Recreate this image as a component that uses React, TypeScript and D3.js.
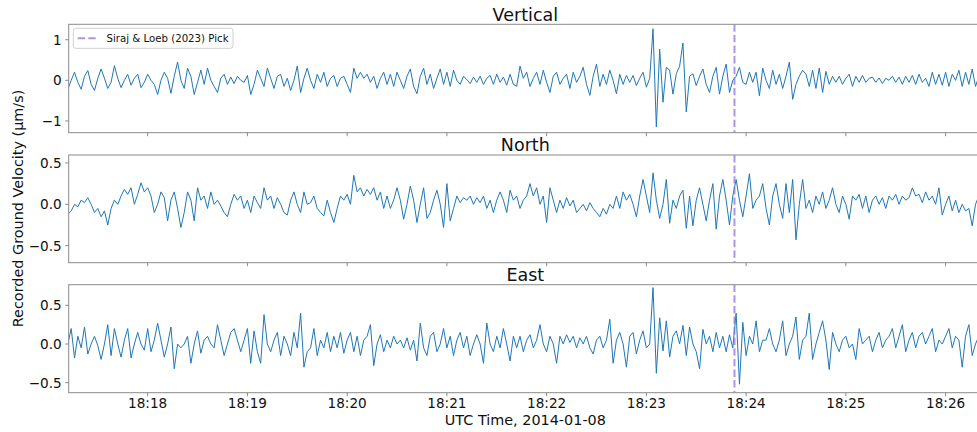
import React from "react";
import * as d3 from "d3";

// Recorded ground velocity (µm/s), one sample every 2 s starting 18:17:12 UTC
const verticalData = [
  -0.22, 0.0, 0.2, -0.05, -0.22, 0.1, 0.24, -0.1, -0.25, 0.05,
  0.28, 0.05, -0.2, -0.05, 0.36, 0.05, -0.18, 0.0, 0.15, -0.12,
  0.05, 0.15, -0.18, -0.05, 0.15, 0.0, -0.1, -0.35, 0.0, 0.2,
  0.05, -0.32, 0.1, 0.45, 0.0, -0.2, 0.3, 0.1, -0.35, -0.05,
  0.25, -0.1, 0.3, 0.0, -0.15, -0.3, 0.05, 0.15, -0.1, 0.08,
  -0.08, 0.1, 0.0, -0.05, 0.12, -0.35, -0.1, 0.25, 0.05, -0.15,
  0.3, 0.05, -0.2, 0.1, 0.15, -0.15, 0.05, -0.25, 0.0, 0.35,
  -0.3, 0.05, 0.3, 0.0, -0.2, 0.15, -0.05, 0.2, -0.15, 0.05,
  0.12, -0.15, 0.05, 0.1, -0.1, -0.3, 0.3, 0.05, 0.2, 0.05,
  0.15, -0.05, 0.1, -0.2, 0.05, 0.2, -0.1, 0.15, -0.15, 0.2,
  0.0, -0.2, 0.1, 0.28, -0.15, -0.33, 0.1, 0.3, -0.1, 0.15,
  -0.2, 0.05, 0.28, -0.1, 0.2, -0.15, 0.25, 0.0, -0.1, 0.1,
  0.02, -0.08, 0.08, -0.05, 0.1, -0.1, 0.05, 0.12, -0.1, 0.15,
  -0.05, 0.08, -0.12, 0.15, -0.1, -0.15, 0.35, 0.05, 0.2, -0.15,
  0.05, 0.2, -0.1, 0.25, -0.05, -0.3, 0.1, 0.2, -0.1, 0.05,
  0.15, -0.2, 0.2, -0.05, 0.1, 0.32, -0.1, -0.37, 0.1, 0.4,
  -0.15, 0.15, -0.1, 0.25, 0.0, -0.33, 0.15, -0.1, 0.12, -0.05,
  0.12, -0.13, 0.05, 0.2, -0.17, 0.05, 1.27, -1.15, 0.77, -0.54,
  0.32, 0.25, -0.34, 0.16, 0.35, 0.92, -0.78, 0.1, 0.16, -0.13,
  0.1, 0.28, -0.1, -0.3, 0.1, 0.32, -0.34, 0.1, 0.4, -0.3,
  0.0, 0.1, 0.32, -0.05, -0.1, 0.2, -0.05, 0.2, -0.38, 0.3,
  0.0, -0.2, 0.25, -0.1, 0.15, -0.2, 0.1, 0.45, -0.47, -0.1,
  0.1, 0.25, 0.15, -0.15, 0.25, -0.2, 0.3, -0.3, 0.22, -0.1,
  0.1, -0.05, 0.1, -0.1, 0.05, 0.15, -0.15, 0.1, -0.05, 0.12,
  -0.05, 0.05, 0.08, -0.05, 0.06, -0.08, 0.05, 0.0, 0.1, -0.05,
  0.08, -0.1, 0.1, -0.05, 0.12, -0.1, 0.15, -0.05, 0.05, -0.15,
  0.2, -0.1, 0.15, -0.12, 0.2, -0.15, 0.15, 0.0, 0.25, -0.15,
  0.2, -0.1, 0.28, -0.15, 0.1,
];

const northData = [
  -0.12, -0.08, 0.0, -0.03, 0.05, 0.02, 0.08, 0.0, -0.1, -0.05,
  -0.15, -0.08, -0.25, -0.05, 0.05, 0.0, 0.1, 0.18, 0.12, 0.2,
  0.0, 0.12, 0.26, 0.15, 0.2, 0.1, -0.1, 0.0, 0.15, 0.08,
  -0.2, 0.05, 0.15, -0.05, -0.28, -0.1, 0.15, 0.05, -0.2, 0.2,
  0.05, 0.1, -0.05, 0.15, 0.0, 0.05, -0.02, -0.1, -0.15, 0.0,
  0.12, 0.05, 0.1, -0.05, 0.05, -0.1, 0.1, 0.02, -0.05, 0.2,
  0.05, 0.1, -0.05, 0.08, 0.0, -0.1, -0.13, 0.05, 0.15, 0.0,
  -0.1, 0.15, 0.0, 0.02, 0.1, -0.05, -0.1, -0.14, 0.05, -0.1,
  -0.22, -0.05, 0.1, 0.05, 0.12, 0.0, 0.35, 0.15, 0.2, 0.1,
  0.18, 0.12, 0.2, 0.05, 0.15, -0.05, 0.1, -0.05, 0.05, 0.2,
  0.05, -0.18, 0.0, 0.22, 0.05, -0.22, 0.0, 0.2, -0.17, -0.1,
  0.05, 0.17, 0.0, -0.28, 0.25, -0.2, -0.05, 0.1, 0.02, 0.08,
  0.05, 0.1, 0.0, 0.08, 0.02, 0.1, -0.05, 0.05, -0.1, 0.05,
  0.15, 0.05, -0.1, 0.17, 0.05, 0.1, -0.05, 0.05, 0.1, 0.25,
  0.1, 0.2, 0.0, 0.1, -0.22, 0.2, 0.05, -0.1, 0.05, -0.05,
  0.08, -0.02, 0.05, -0.1, -0.05, 0.0, -0.08, 0.02, -0.05, -0.1,
  -0.15, -0.05, -0.12, 0.0, -0.05, 0.1, -0.05, 0.15, 0.05, 0.12,
  0.0, -0.15, 0.1, 0.3, 0.1, -0.1, 0.38, 0.05, -0.17, 0.0,
  0.3, -0.23, 0.05, -0.05, 0.1, 0.17, -0.29, 0.1, -0.26, 0.05,
  0.2, 0.0, -0.2, 0.05, 0.25, -0.3, 0.1, 0.3, 0.05, -0.25,
  0.1, 0.3, 0.05, -0.15, 0.1, 0.37, -0.05, 0.05, 0.1, 0.25,
  -0.05, -0.25, 0.1, 0.25, 0.0, -0.17, 0.25, -0.1, 0.3, -0.43,
  0.0, 0.3, -0.05, 0.05, -0.1, 0.1, 0.0, 0.15, -0.05, 0.05,
  0.2, 0.0, -0.1, 0.1, 0.0, -0.18, 0.1, 0.05, 0.12, -0.05,
  0.1, -0.1, 0.05, 0.1, 0.0, 0.08, -0.05, 0.1, 0.05, 0.12,
  0.0, 0.1, 0.05, 0.08, 0.2, 0.1, 0.12, 0.02, 0.15, 0.05,
  0.1, 0.0, 0.2, -0.13, 0.0, 0.1, -0.08, 0.05, -0.1, 0.0,
  -0.08, -0.05, -0.26, 0.0, 0.1,
];

const eastData = [
  0.0, 0.2, -0.18, 0.1, -0.05, 0.22, -0.13, 0.0, 0.1, -0.02,
  -0.2, 0.0, 0.25, -0.15, 0.2, 0.0, -0.17, 0.05, 0.2, -0.18,
  0.0, 0.15, 0.0, -0.08, 0.2, -0.1, 0.05, 0.27, 0.05, -0.17,
  0.0, 0.22, -0.32, 0.0, -0.05, 0.0, 0.1, -0.25, 0.0, 0.17,
  -0.12, 0.05, 0.1, 0.0, -0.05, 0.25, 0.05, -0.15, 0.0, 0.15,
  0.2, 0.05, -0.1, 0.05, 0.2, -0.25, 0.17, -0.1, -0.25, 0.38,
  0.0, -0.1, 0.05, 0.15, -0.15, 0.1, 0.0, -0.15, 0.15, -0.05,
  0.4, -0.3, -0.1, -0.05, 0.2, -0.15, 0.05, -0.05, 0.15, -0.1,
  0.1, -0.05, 0.15, -0.12, 0.05, 0.15, -0.1, 0.1, -0.15, 0.05,
  0.1, 0.25, -0.28, 0.0, 0.12, -0.1, 0.05, -0.05, 0.1, 0.0,
  0.05, -0.05, 0.08, -0.08, 0.05, -0.22, 0.27, -0.05, -0.15, 0.1,
  0.15, -0.1, 0.0, 0.2, -0.05, 0.1, -0.15, 0.05, 0.15, -0.05,
  0.1, -0.15, 0.0, 0.12, 0.0, -0.25, 0.27, 0.0, -0.1, 0.1,
  -0.05, 0.2, 0.0, -0.22, 0.1, -0.05, 0.1, -0.1, 0.05, 0.12,
  -0.05, 0.05, 0.25, 0.0, -0.1, 0.1, 0.0, -0.25, 0.1, 0.0,
  0.12, 0.02, 0.1, -0.05, 0.08, 0.0, 0.1, -0.05, -0.13, 0.05,
  0.1, -0.05, 0.05, 0.32, -0.25, 0.05, 0.15, 0.0, -0.3, 0.1,
  0.15, -0.13, 0.05, 0.17, -0.05, 0.0, 0.73, -0.38, 0.34, -0.09,
  0.3, -0.17, 0.1, 0.17, 0.0, 0.24, -0.15, 0.22, 0.0, -0.1,
  -0.32, 0.19, 0.0, 0.1, -0.1, 0.15, -0.05, 0.1, -0.1, 0.12,
  -0.05, 0.4, -0.52, 0.28, -0.15, 0.1, 0.0, 0.3, -0.1, 0.05,
  0.05, 0.2, 0.0, -0.1, 0.05, 0.3, -0.15, 0.0, 0.1, 0.35,
  -0.2, 0.05, 0.1, 0.4, -0.2, 0.0, 0.15, 0.3, 0.05, -0.33,
  0.15, 0.0, -0.1, 0.05, 0.1, -0.05, 0.0, -0.2, 0.2, 0.0,
  0.05, 0.1, -0.1, 0.05, 0.15, -0.05, 0.05, 0.1, 0.2, -0.05,
  0.1, 0.25, -0.1, 0.05, 0.15, -0.05, 0.1, 0.15, 0.0, 0.1,
  0.2, -0.1, 0.05, 0.0, 0.1, 0.2, -0.05, 0.1, 0.05, -0.3,
  0.1, 0.25, -0.15, 0.0, 0.1,
];

const panelTitles = ["Vertical", "North", "East"];
const xTickLabels = ["18:18", "18:19", "18:20", "18:21", "18:22", "18:23", "18:24", "18:25", "18:26"];
const verticalTickValues = [-1, 0, 1];
const verticalTickLabels = ["\u22121", "0", "1"];
const horizontalTickValues = [-0.5, 0, 0.5];
const horizontalTickLabels = ["\u22120.5", "0.0", "0.5"];
const legendLabel = "Siraj & Loeb (2023) Pick";
const xAxisLabel = "UTC Time, 2014-01-08";
const yAxisLabel = "Recorded Ground Velocity (\u03bcm/s)";

const startTimeMs = Date.UTC(2014, 0, 8, 18, 17, 12);
const sampleStepMs = 2000;
const pickTime = new Date(Date.UTC(2014, 0, 8, 18, 23, 53));
const xDomain = [new Date(Date.UTC(2014, 0, 8, 18, 17, 12, 500)), new Date(Date.UTC(2014, 0, 8, 18, 26, 21, 900))];

const W = 977;
const H = 432;
const left = 68.7;
const right = 982;
const FONT = "DejaVu Sans, sans-serif";
const SPINE = "#8a8a8a";
const LINE = "#1f77b4";
const PICK = "#9370db";

const panels = [
  { title: panelTitles[0], data: verticalData, top: 24.3, bottom: 132.7, domain: [-1.29, 1.38], ticks: verticalTickValues, labels: verticalTickLabels },
  { title: panelTitles[1], data: northData, top: 155, bottom: 262.7, domain: [-0.706, 0.596], ticks: horizontalTickValues, labels: horizontalTickLabels },
  { title: panelTitles[2], data: eastData, top: 284.7, bottom: 392.7, domain: [-0.63, 0.767], ticks: horizontalTickValues, labels: horizontalTickLabels },
];

function tickDate(label: string) {
  const [h, m] = label.split(":").map(Number);
  return new Date(Date.UTC(2014, 0, 8, h, m, 0));
}

export default function App() {
  const x = d3.scaleUtc().domain(xDomain).range([left, right]);
  const pickX = x(pickTime);

  return (
    <svg width={W} height={H} style={{ position: "absolute", left: 0, top: 0, background: "#fff" }} fontFamily={FONT}>
      <rect x={0} y={0} width={W} height={H} fill="#fff" />
      <defs>
        {panels.map((p, k) => (
          <clipPath id={`clip${k}`} key={k}>
            <rect x={left} y={p.top} width={right - left} height={p.bottom - p.top} />
          </clipPath>
        ))}
      </defs>
      {panels.map((p, k) => {
        const y = d3.scaleLinear().domain(p.domain).range([p.bottom, p.top]);
        const line = d3
          .line<number>()
          .x((_, i) => x(new Date(startTimeMs + i * sampleStepMs)))
          .y((d) => y(d));
        const isLast = k === panels.length - 1;
        return (
          <g key={k}>
            <g clipPath={`url(#clip${k})`}>
              <path d={line(p.data) || ""} fill="none" stroke={LINE} strokeWidth={1} strokeLinejoin="round" />
              <line x1={pickX} x2={pickX} y1={p.top} y2={p.bottom} stroke={PICK} strokeOpacity={0.75} strokeWidth={2} strokeDasharray="7.4,3.2" />
            </g>
            <rect x={left} y={p.top} width={right - left} height={p.bottom - p.top} fill="none" stroke={SPINE} strokeWidth={1} />
            {p.ticks.map((t, j) => (
              <g key={j}>
                <line x1={left - 3.5} x2={left} y1={y(t)} y2={y(t)} stroke={SPINE} strokeWidth={1} />
                <text x={left - 7} y={y(t)} dy="0.36em" textAnchor="end" fontSize={13.6} fill="#111">
                  {p.labels[j]}
                </text>
              </g>
            ))}
            {xTickLabels.map((lab) => {
              const tx = x(tickDate(lab));
              return (
                <g key={lab}>
                  <line x1={tx} x2={tx} y1={p.bottom} y2={p.bottom + 3.5} stroke={SPINE} strokeWidth={1} />
                  {isLast && (
                    <text x={tx} y={408.3} textAnchor="middle" fontSize={13.6} fill="#111">
                      {lab}
                    </text>
                  )}
                </g>
              );
            })}
            <text x={(left + right) / 2} y={p.top - 3.6} textAnchor="middle" fontSize={17.5} fill="#111">
              {p.title}
            </text>
          </g>
        );
      })}
      <g>
        <rect x={73.3} y={28.3} width={159.7} height={20} rx={2.5} fill="#fff" fillOpacity={0.8} stroke="#d0d0d0" strokeWidth={1} />
        <line x1={77.7} x2={95.7} y1={38.3} y2={38.3} stroke={PICK} strokeOpacity={0.75} strokeWidth={2} strokeDasharray="7.4,3.2" />
        <text x={106.5} y={38.3} dy="0.36em" fontSize={10.2} fill="#111">
          {legendLabel}
        </text>
      </g>
      <text x={(left + right) / 2} y={425} textAnchor="middle" fontSize={14.4} fill="#111">
        {xAxisLabel}
      </text>
      <text transform={`translate(22.7,208.5) rotate(-90)`} textAnchor="middle" fontSize={14.4} fill="#111">
        {yAxisLabel}
      </text>
    </svg>
  );
}
